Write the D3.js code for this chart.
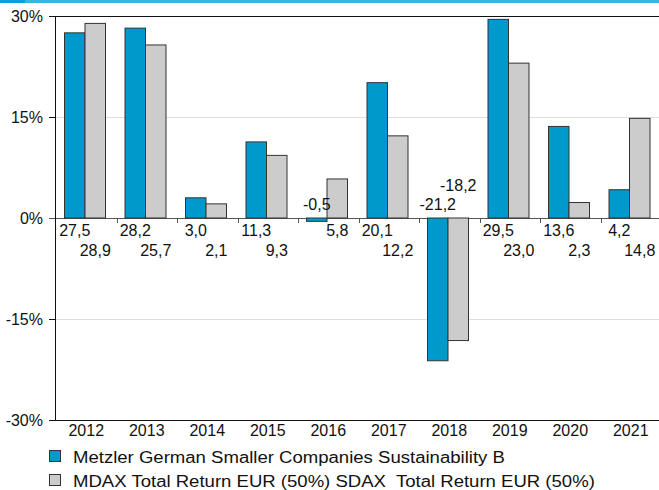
<!DOCTYPE html>
<html>
<head>
<meta charset="utf-8">
<script src="https://cdn.jsdelivr.net/npm/d3@7"></script>
<style>
  body { margin: 0; background: #fff; }
  svg { display: block; font-family: "Liberation Sans", Arial, sans-serif; }
  text { font-size: 16px; fill: #111; }
</style>
</head>
<body>
<div id="chart"></div>
<script>
// data
var years = ["2012","2013","2014","2015","2016","2017","2018","2019","2020","2021"];
var fund = [27.5, 28.2, 3.0, 11.3, -0.5, 20.1, -21.2, 29.5, 13.6, 4.2];
var bench = [28.9, 25.7, 2.1, 9.3, 5.8, 12.2, -18.2, 23.0, 2.3, 14.8];
var seriesNames = ["Metzler German Smaller Companies Sustainability B",
	"MDAX Total Return EUR (50%) SDAX  Total Return EUR (50%)"];
var seriesColors = ["#0099cc", "#cccccc"];
var yTicks = [30, 15, 0, -15, -30];

var width = 659, height = 490;
var plot = {left: 55, right: 661, top: 16, bottom: 420};
var legendStretch = 1.16; // legend text is drawn wider than the rest

var svg = d3.select("#chart").append("svg")
	.attr("width", width)
	.attr("height", height);

// top stripe
svg.append("rect").attr("x", 0).attr("y", 0).attr("width", width).attr("height", 3).attr("fill", "#3db4e0");
svg.append("rect").attr("x", 0).attr("y", 0).attr("width", 25).attr("height", 3).attr("fill", "#0d9fd5");

var x = d3.scaleBand().domain(years).range([plot.left + 1, plot.right]);
var x1 = d3.scaleBand().domain([0, 1]).range([8.5, 49.5]);
var y = d3.scaleLinear().domain([-30, 30]).range([plot.bottom, plot.top]);

// grid lines and y ticks
yTicks.forEach(function(t) {
	var col = (t == 30 || t == -30) ? "#111" : (t == 0 ? "#555" : "#dddddd");
	svg.append("line")
		.attr("x1", plot.left).attr("x2", width)
		.attr("y1", y(t) + 0.5).attr("y2", y(t) + 0.5)
		.attr("stroke", col);
	svg.append("line")
		.attr("x1", 49).attr("x2", plot.left)
		.attr("y1", y(t) + 0.5).attr("y2", y(t) + 0.5)
		.attr("stroke", t == 0 ? "#555" : "#111");
	svg.append("text")
		.attr("x", 43).attr("y", y(t) + 5.5)
		.attr("text-anchor", "end")
		.text(t + "%");
});

// small ticks on the zero line between years
years.slice(1).forEach(function(yr) {
	svg.append("line")
		.attr("x1", Math.round(x(yr)) + 0.5).attr("x2", Math.round(x(yr)) + 0.5)
		.attr("y1", y(0)).attr("y2", y(0) + 5)
		.attr("stroke", "#555");
});

// bars
var rows = years.map(function(yr, i) { return {year: yr, vals: [fund[i], bench[i]]}; });

var groups = svg.selectAll(".yr")
	.data(rows)
	.enter().append("g")
		.attr("class", "yr")
		.attr("transform", d => "translate(" + x(d.year) + ",0)");

groups.selectAll("rect")
	.data(d => d.vals)
	.enter().append("rect")
		.attr("x", (d, i) => x1(i))
		.attr("width", x1.bandwidth())
		.attr("y", d => y(Math.max(0, d)))
		.attr("height", d => Math.abs(y(d) - y(0)))
		.attr("fill", (d, i) => seriesColors[i])
		.attr("stroke", "#333")
		.attr("stroke-width", 1);

// value labels: positive ones below the axis, negative ones above, stacked
groups.each(function(d) {
	var g = d3.select(this);
	var below = 0, above = 0;
	d.vals.forEach(function(v, i) {
		var ty;
		if (v >= 0) { ty = y(0) + 17.5 + 20 * below; below++; }
		else { ty = y(0) - 8.5 - 19 * above; above++; }
		g.append("text")
			.attr("x", x1(i) + x1.bandwidth() / 2)
			.attr("y", ty)
			.attr("text-anchor", "middle")
			.text(v.toFixed(1).replace(".", ","));
	});
});

// left axis
svg.append("line")
	.attr("x1", plot.left + 0.5).attr("x2", plot.left + 0.5)
	.attr("y1", plot.top).attr("y2", plot.bottom + 1)
	.attr("stroke", "#111");

// year labels
svg.selectAll(".yl")
	.data(years)
	.enter().append("text")
		.attr("class", "yl")
		.attr("x", d => x(d) + x.bandwidth() / 2)
		.attr("y", 436)
		.attr("text-anchor", "middle")
		.text(d => d);

// legend
var legend = svg.selectAll(".lg")
	.data(seriesNames)
	.enter().append("g")
		.attr("class", "lg")
		.attr("transform", (d, i) => "translate(49," + (450 + 24 * i) + ")");
legend.append("rect")
	.attr("x", 0.5).attr("y", 0.5)
	.attr("width", 11).attr("height", 11)
	.attr("fill", (d, i) => seriesColors[i])
	.attr("stroke", "#333");
legend.append("text")
	.attr("transform", "translate(24,13) scale(" + legendStretch + ",1)")
	.style("font-size", "16px")
	.style("white-space", "pre")
	.text(d => d);
</script>
</body>
</html>
